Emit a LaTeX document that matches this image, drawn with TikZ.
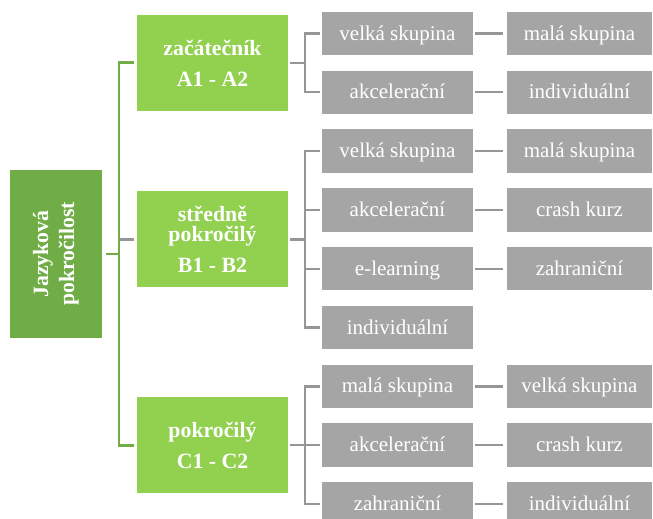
\documentclass[tikz,border=0pt]{standalone}
\usepackage{fontspec}
\setmainfont{Liberation Serif}
\definecolor{darkgreen}{RGB}{112,173,71}
\definecolor{lightgreen}{RGB}{146,208,80}
\definecolor{optgrey}{RGB}{165,165,165}
\definecolor{linegrey}{RGB}{150,150,150}
\usetikzlibrary{positioning,calc}

\begin{document}
\begin{tikzpicture}[
    x=0.5pt, y=-0.5pt,
    node distance = 7.65pt and 17pt,
    rootbox/.style = {fill=darkgreen, text=white, minimum width=46pt,
                      minimum height=84pt, inner sep=0pt, outer sep=0pt,
                      font=\fontsize{10.9}{13}\selectfont\bfseries},
    lvl/.style     = {fill=lightgreen, text=white, minimum width=75.5pt,
                      minimum height=48pt, inner sep=0pt, outer sep=0pt,
                      align=center,
                      font=\fontsize{10.9}{10}\selectfont\bfseries},
    opt/.style     = {fill=optgrey, text=white, minimum width=75.5pt,
                      minimum height=21.75pt, inner sep=0pt, outer sep=0pt,
                      text height=7.5pt, text depth=0.9pt,
                      font=\fontsize{10.5}{12}\selectfont},
    opt2/.style    = {opt, minimum width=72.5pt},
    gline/.style   = {draw=darkgreen, line width=1.4pt},
    kline/.style   = {draw=linegrey, line width=1.2pt},
    pair/.style    = {kline, shorten <=1pt, shorten >=2pt},
  ]
    \useasboundingbox (0,0) rectangle (653,519);

    % first column of options
    \node[opt] at (397.5,33.5) (a1) {velká skupina};
    \node[opt, below=of a1] (a2) {akcelerační};
    \node[opt, below=of a2] (a3) {velká skupina};
    \node[opt, below=of a3] (a4) {akcelerační};
    \node[opt, below=of a4] (a5) {e-learning};
    \node[opt, below=of a5] (a6) {individuální};
    \node[opt, below=of a6] (a7) {malá skupina};
    \node[opt, below=of a7] (a8) {akcelerační};
    \node[opt, below=of a8] (a9) {zahraniční};

    % second column of options
    \node[opt2, right=of a1] (b1) {malá skupina};
    \node[opt2, right=of a2] (b2) {individuální};
    \node[opt2, right=of a3] (b3) {malá skupina};
    \node[opt2, right=of a4] (b4) {crash kurz};
    \node[opt2, right=of a5] (b5) {zahraniční};
    \node[opt2, right=of a7] (b7) {velká skupina};
    \node[opt2, right=of a8] (b8) {crash kurz};
    \node[opt2, right=of a9] (b9) {individuální};

    % levels
    \coordinate (g1) at ($(a1.west)!0.5!(a2.west)$);
    \coordinate (g2) at ($(a3.west)!0.5!(a6.west)$);
    \coordinate (g3) at ($(a7.west)!0.5!(a9.west)$);
    \node[lvl, left=17pt of g1] (l1) {začátečník\\[5.5pt]A1 - A2};
    \node[lvl, left=17pt of g2] (l2) {středně\\pokročilý\\[5.5pt]B1 - B2};
    \node[lvl, left=17pt of g3] (l3) {pokročilý\\[5.5pt]C1 - C2};

    \coordinate (gm) at ($(l1.west)!0.5!(l3.west)$);
    \node[rootbox, left=17.5pt of gm] (rt)
      {\rotatebox{90}{\begin{tabular}{@{}c@{}}Jazyková\\pokročilost\end{tabular}}};

    % green tree
    \draw[gline, shorten <=1.5pt, shorten >=1.5pt]
      (l1.west) -- ++(-9pt,0) coordinate (trunk) |- (l3.west);
    \draw[gline, shorten <=2pt] (rt.east) -- (rt.east -| trunk);
    \draw[kline, shorten <=1.5pt] (l2.west) -- (l2.west -| trunk);

    % grey brackets
    \draw[kline, shorten <=1pt] (l1.east) -- ++(8.5pt,0);
    \draw[kline, shorten <=1pt] (l2.east) -- ++(8.5pt,0);
    \draw[kline, shorten <=1pt] (l3.east) -- ++(8.5pt,0);
    \draw[kline, shorten <=1pt, shorten >=1pt] (a1.west) -- ++(-8.5pt,0) |- (a2.west);
    \draw[kline, shorten <=1pt, shorten >=1pt] (a3.west) -- ++(-8.5pt,0) |- (a6.west);
    \draw[kline, shorten <=1pt] (a4.west) -- ++(-8.5pt,0);
    \draw[kline, shorten <=1pt] (a5.west) -- ++(-8.5pt,0);
    \draw[kline, shorten <=1pt, shorten >=1pt] (a7.west) -- ++(-8.5pt,0) |- (a9.west);
    \draw[kline, shorten <=1pt] (a8.west) -- ++(-8.5pt,0);

    % pairs
    \draw[pair] (a1) -- (b1);
    \draw[pair] (a2) -- (b2);
    \draw[pair] (a3) -- (b3);
    \draw[pair] (a4) -- (b4);
    \draw[pair] (a5) -- (b5);
    \draw[pair] (a7) -- (b7);
    \draw[pair] (a8) -- (b8);
    \draw[pair] (a9) -- (b9);
\end{tikzpicture}
\end{document}
